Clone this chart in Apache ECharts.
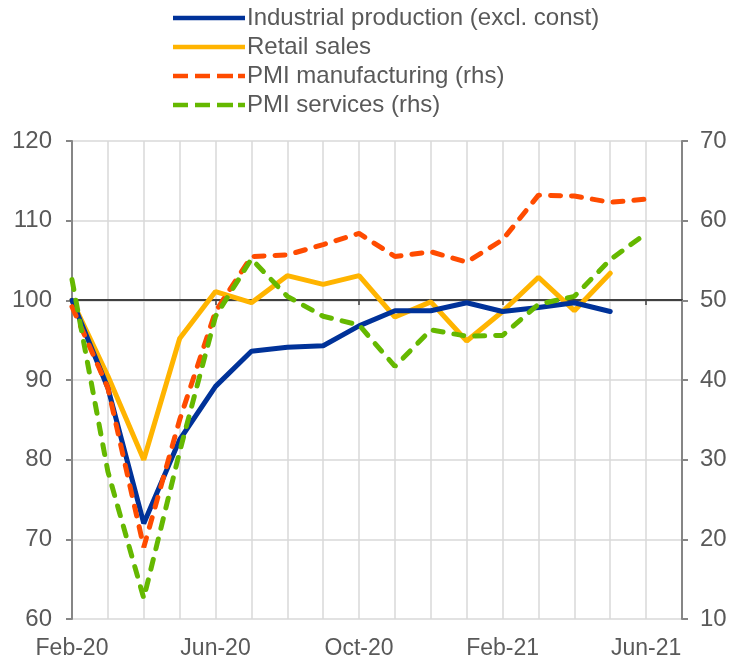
<!DOCTYPE html>
<html>
<head>
<meta charset="utf-8">
<script src="https://cdn.jsdelivr.net/npm/echarts@6/dist/echarts.min.js"></script>
<style>
  html, body { margin: 0; padding: 0; background: #fff; }
  #chart { width: 734px; height: 660px; }
</style>
</head>
<body>
<div id="chart"></div>
<script>
// months, Feb-20 .. Jul-21 (last one is empty space at the right edge)
const months = ["Feb-20", "Mar-20", "Apr-20", "May-20", "Jun-20", "Jul-20", "Aug-20", "Sep-20",
  "Oct-20", "Nov-20", "Dec-20", "Jan-21", "Feb-21", "Mar-21", "Apr-21", "May-21", "Jun-21", "Jul-21"]

// index, Feb-20 = 100 (lhs)
const industrial = [100, 89, 72, 82.5, 89.2, 93.6, 94.1, 94.3, 96.8, 98.7, 98.7, 99.7, 98.6, 99.1, 99.7, 98.6, null, null]
const retail = [100, 90.5, 80, 95.2, 101.1, 99.7, 103.1, 102, 103.1, 97.9, 99.8, 94.9, 98.6, 102.9, 98.7, 103.4, null, null]
// diffusion index (rhs)
const pmiManuf = [49.2, 39, 19, 35, 48.6, 55.5, 55.7, 57, 58.4, 55.5, 56.1, 54.8, 57.6, 63.2, 63.1, 62.3, 62.7, null]
const pmiServ = [52.6, 28.5, 12.6, 31, 48, 55.2, 50.5, 48, 46.9, 41.7, 46.3, 45.5, 45.6, 49.5, 50.5, 55.1, 58.4, null]

const grey = "#595959"
const axisGrey = "#868686"
const gridGrey = "#d9d9d9"

// legend keys drawn as paths (solid bar / dashed bar), 72 x 4.5
const solidIcon = "path://M0,0H72V4.5H0Z"
const dashIcon = "path://M0,0H15V4.5H0Z M22,0H37V4.5H22Z M44,0H60V4.5H44Z M65,0H72V4.5H65Z"

const chart = echarts.init(document.getElementById("chart"))

const option = {
  animation: false,
  textStyle: { fontFamily: "Liberation Sans, Arial, sans-serif" },
  legend: {
    orient: "vertical",
    left: 168,
    top: 1,
    itemWidth: 72,
    itemHeight: 4.5,
    itemGap: 5,
    textStyle: { fontSize: 24, lineHeight: 24, color: grey, padding: [0, 0, 0, -3] },
    data: [
      { name: "Industrial production (excl. const)", icon: solidIcon },
      { name: "Retail sales", icon: solidIcon },
      { name: "PMI manufacturing (rhs)", icon: dashIcon },
      { name: "PMI services (rhs)", icon: dashIcon },
    ],
  },
  grid: { left: 72, right: 52, top: 141, bottom: 40 },
  xAxis: [
    {
      type: "category",
      data: months,
      boundaryGap: false,
      axisLine: { show: false },
      axisTick: { show: false },
      axisLabel: {
        interval: 3,
        fontSize: 23,
        color: grey,
        margin: 18,
        formatter: (v, i) => (i === 17 ? "" : v),
      },
      splitLine: { show: true, interval: 0, lineStyle: { color: gridGrey, width: 1.5 } },
    },
    {
      // the horizontal line at 100, with its ticks
      type: "category",
      data: months,
      boundaryGap: false,
      position: "bottom",
      offset: -319,
      axisLine: { show: true, lineStyle: { color: "#404040", width: 2 } },
      axisTick: { show: true, interval: 3, length: 5, lineStyle: { color: "#404040", width: 1.5 } },
      axisLabel: { show: false },
      splitLine: { show: false },
    },
  ],
  yAxis: [
    {
      type: "value",
      min: 60,
      max: 120,
      interval: 10,
      axisLine: { show: true, lineStyle: { color: axisGrey, width: 2 } },
      axisTick: { show: true, length: 6, lineStyle: { color: axisGrey, width: 2 } },
      axisLabel: { fontSize: 24, color: grey, margin: 20 },
      splitLine: { show: true, lineStyle: { color: gridGrey, width: 1.5 } },
    },
    {
      type: "value",
      min: 10,
      max: 70,
      interval: 10,
      position: "right",
      axisLine: { show: true, lineStyle: { color: axisGrey, width: 2 } },
      axisTick: { show: true, length: 6, lineStyle: { color: axisGrey, width: 2 } },
      axisLabel: { fontSize: 24, color: grey, margin: 18 },
      splitLine: { show: false },
    },
  ],
  series: [
    {
      name: "Industrial production (excl. const)",
      type: "line",
      data: industrial,
      symbol: "none",
      color: "#003299",
      lineStyle: { width: 5, color: "#003299", cap: "round" },
      z: 4,
    },
    {
      name: "Retail sales",
      type: "line",
      data: retail,
      symbol: "none",
      color: "#ffb400",
      lineStyle: { width: 5, color: "#ffb400", cap: "round" },
      z: 3,
    },
    {
      name: "PMI manufacturing (rhs)",
      type: "line",
      yAxisIndex: 1,
      data: pmiManuf,
      symbol: "none",
      color: "#ff4b00",
      lineStyle: { width: 5, color: "#ff4b00", type: [10, 11], cap: "round" },
      z: 5,
    },
    {
      name: "PMI services (rhs)",
      type: "line",
      yAxisIndex: 1,
      data: pmiServ,
      symbol: "none",
      color: "#65b800",
      lineStyle: { width: 5, color: "#65b800", type: [10, 11], cap: "round" },
      z: 6,
    },
  ],
}

chart.setOption(option)
</script>
</body>
</html>
